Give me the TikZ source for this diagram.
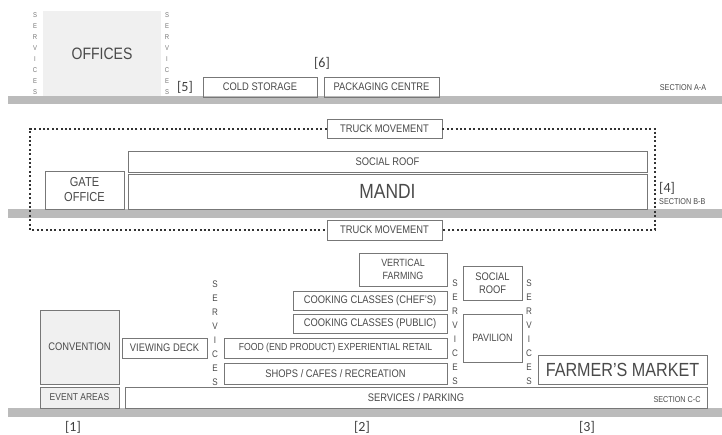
\documentclass[tikz,border=0pt]{standalone}
\usepackage{fontspec}
\setmainfont{Liberation Sans}[FakeStretch=0.85]
\newfontfamily\brkfont{Carlito}
\definecolor{txt}{HTML}{4A4A4A}
\definecolor{lin}{HTML}{777777}
\definecolor{grd}{HTML}{BBBBBB}
\definecolor{lfill}{HTML}{F0F0F0}
\tikzset{
 bx/.style={draw=lin, line width=0.9pt, inner sep=0pt, text=txt, align=center, font=\fontsize{11}{12}\selectfont},
 gnd/.style={fill=grd, draw=none},
 vsv/.style={text=txt, align=center, inner sep=0pt, font=\fontsize{9.5}{14}\selectfont},
 vsvs/.style={text=txt!75, align=center, inner sep=0pt, font=\fontsize{7}{11}\selectfont},
 brk/.style={text=black!75, inner sep=0pt, font=\brkfont\fontsize{14}{14}\selectfont},
 sect/.style={text=txt, inner sep=0pt, font=\fontsize{8.5}{9}\selectfont},
 dotline/.style={line width=2pt, dash pattern=on 2pt off 2.4pt, draw=black!80},
}
\begin{document}
\begin{tikzpicture}[x=1pt,y=-1pt]
\useasboundingbox[fill=white] (0,0) rectangle (722,434);
% ground bars
\fill[gnd] (8,96) rectangle (722,104);
\fill[gnd] (8,209) rectangle (722,218);
\fill[gnd] (8,408) rectangle (722,417);
% ---------- Section A-A
\node[bx, draw=none, fill=lfill, minimum width=118pt, minimum height=85pt, font=\fontsize{16.5}{18}\selectfont] (offices) at (102,53.5) {OFFICES};
\node[vsvs] (sva1) at (35,54) {S\\E\\R\\V\\I\\C\\E\\S};
\node[vsvs] (sva2) at (167,54) {S\\E\\R\\V\\I\\C\\E\\S};
\node[brk] (l5) at (185,87) {[5]};
\node[bx, minimum width=114pt, minimum height=20pt] (cold) at (260,87) {COLD STORAGE};
\node[bx, minimum width=115pt, minimum height=20pt] (pack) at (381.5,87) {PACKAGING CENTRE};
\node[brk] (l6) at (322,63) {[6]};
\node[sect] (secA) at (683,88) {SECTION A-A};
% ---------- Section B-B
\node[bx, minimum width=79pt, minimum height=38pt, font=\fontsize{13}{15}\selectfont] (gate) at (84.5,190) {GATE\\OFFICE};
\node[bx, minimum width=519pt, minimum height=21pt] (sroofb) at (387.5,161.5) {SOCIAL ROOF};
\node[bx, minimum width=519pt, minimum height=35pt, font=\fontsize{20.5}{22}\selectfont] (mandi) at (387.5,191.5) {MANDI};
\node[bx, minimum width=115pt, minimum height=19pt] (tm1) at (384.5,128.5) {TRUCK MOVEMENT};
\node[bx, minimum width=115pt, minimum height=20pt] (tm2) at (384.5,230) {TRUCK MOVEMENT};
\coordinate (dl) at (30,0);
\coordinate (dr) at (655,0);
\draw[dotline] (tm1.west) -| (dl |- tm2.west) -- (tm2.west);
\draw[dotline] (tm1.east) -| (dr |- tm2.east) -- (tm2.east);
\node[brk, anchor=west] (l4) at (659,188) {[4]};
\node[sect, anchor=west] (secB) at (659,202) {SECTION B-B};
% ---------- Section C-C
\node[bx, fill=lfill, minimum width=79pt, minimum height=74pt] (conv) at (79.5,347) {CONVENTION};
\node[bx, fill=lfill, minimum width=79pt, minimum height=21pt, font=\fontsize{10}{12}\selectfont] (event) at (79.5,397.5) {EVENT AREAS};
\node[bx, minimum width=85pt, minimum height=20pt] (view) at (164.5,348) {VIEWING DECK};
\node[vsv] (svc1) at (215,333) {S\\E\\R\\V\\I\\C\\E\\S};
\node[bx, minimum width=582pt, minimum height=21pt] (park) at (416,397.5) {SERVICES / PARKING};
\node[sect] (secC) at (677,400) {SECTION C-C};
\node[bx, minimum width=223pt, minimum height=20pt, font=\fontsize{10.2}{12}\selectfont] (food) at (335.5,348) {FOOD (END PRODUCT) EXPERIENTIAL RETAIL};
\node[bx, minimum width=223pt, minimum height=21pt] (shops) at (335.5,373.5) {SHOPS / CAFES / RECREATION};
\node[bx, minimum width=154pt, minimum height=19pt] (public) at (370,323.5) {COOKING CLASSES (PUBLIC)};
\node[bx, minimum width=154pt, minimum height=19pt] (chefs) at (370,300.5) {COOKING CLASSES (CHEF'S)};
\node[bx, minimum width=88pt, minimum height=33pt, font=\fontsize{10.5}{13}\selectfont] (vfarm) at (403,269.5) {VERTICAL\\FARMING};
\node[vsv] (svc2) at (455,332) {S\\E\\R\\V\\I\\C\\E\\S};
\node[bx, minimum width=59pt, minimum height=34pt, font=\fontsize{11}{13}\selectfont] (sroofc) at (492.5,283) {SOCIAL\\ROOF};
\node[bx, minimum width=59pt, minimum height=48pt, font=\fontsize{10.6}{12}\selectfont] (pav) at (492.5,338) {PAVILION};
\node[vsv] (svc3) at (529,332) {S\\E\\R\\V\\I\\C\\E\\S};
\node[bx, minimum width=169pt, minimum height=29pt, font=\fontsize{19}{20}\selectfont] (farmer) at (622.5,369.5) {FARMER'S MARKET};
\node[brk] (l1) at (73,427) {[1]};
\node[brk] (l2) at (362,427) {[2]};
\node[brk] (l3) at (587,427) {[3]};
\end{tikzpicture}
\end{document}
